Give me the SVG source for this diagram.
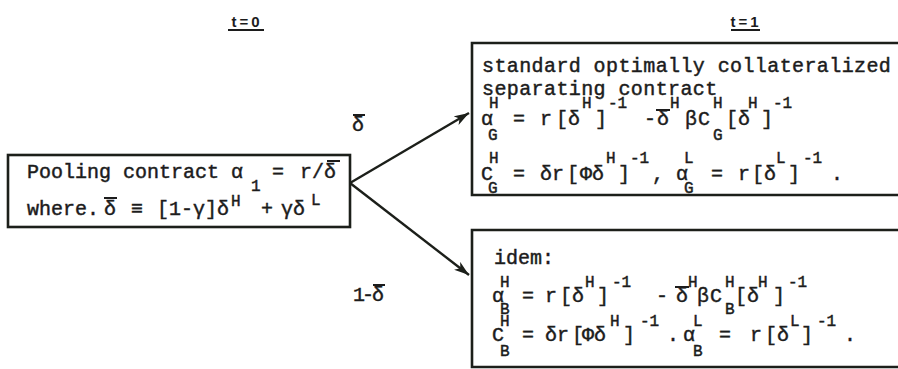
<svg xmlns="http://www.w3.org/2000/svg" width="898" height="369" viewBox="0 0 898 369">
<style>
.m{font-family:"Liberation Mono","DejaVu Sans Mono",monospace;font-size:20px;fill:#1c1c1c;stroke:#1c1c1c;stroke-width:0.45}
.s{font-size:16px}
.t{font-family:"Liberation Sans","DejaVu Sans",sans-serif;font-size:15px;font-weight:bold;fill:#1c1c1c;letter-spacing:3px}
.box{fill:none;stroke:#1c1f1a;stroke-width:2.6}
.bar{stroke:#1c1c1c;stroke-width:2}
.edge{fill:none;stroke:#1c1f1a;stroke-width:2.4}
</style>
<defs>
<marker id="ah" markerUnits="userSpaceOnUse" markerWidth="16" markerHeight="12" refX="15" refY="5" orient="auto">
<path d="M0,0 L15,5 L0,10 L4,5 z" fill="#1c1f1a"/>
</marker>
</defs>
<rect width="898" height="369" fill="#ffffff"/>

<g id="title-t0">
<text class="t" x="247" y="27" text-anchor="middle">t=0</text>
<line class="bar" x1="228" y1="30" x2="264" y2="30"/>
</g>
<g id="title-t1">
<text class="t" x="746" y="27" text-anchor="middle">t=1</text>
<line class="bar" x1="731" y1="30" x2="760" y2="30"/>
</g>

<g id="connectors">
<path class="edge" d="M350,183 L469,113" marker-end="url(#ah)"/>
<path class="edge" d="M350,183 L469,275" marker-end="url(#ah)"/>
<g id="label-up">
<text class="m" x="352" y="131">δ</text>
<line class="bar" x1="353" y1="115" x2="365" y2="115"/>
</g>
<g id="label-down">
<text class="m" x="353" y="301"><tspan>1</tspan><tspan x="362">-</tspan><tspan x="372">δ</tspan></text>
<line class="bar" x1="373" y1="285" x2="385" y2="285"/>
</g>
</g>

<g id="pooling">
<rect class="box" x="8" y="155" width="342" height="72"/>
<text class="m" x="27" y="178">Pooling contract α<tspan class="s" x="251" y="191">1</tspan><tspan x="272" y="178">=</tspan><tspan x="300">r/δ</tspan></text>
<line class="bar" x1="327" y1="161" x2="340" y2="161"/>
<text class="m" x="27" y="215">where.<tspan x="104">δ</tspan><tspan x="131">≡</tspan><tspan x="157">[1-γ]δ</tspan><tspan class="s" x="231" y="206">H</tspan><tspan x="261" y="215">+</tspan><tspan x="281">γδ</tspan><tspan class="s" x="311" y="205">L</tspan></text>
<line class="bar" x1="104" y1="198" x2="117" y2="198"/>
</g>

<g id="separating">
<path class="box" d="M905,43 L472,43 L472,195 L905,195"/>
<text class="m" x="482" y="72" letter-spacing="0.4">standard optimally collateralized</text>
<text class="m" x="482" y="95" letter-spacing="0.4">separating contract</text>
<text class="m" x="481" y="125">α<tspan class="s" x="489" y="108">H</tspan><tspan class="s" x="488" y="140">G</tspan><tspan x="513" y="125">=</tspan><tspan x="540">r</tspan><tspan x="556">[δ</tspan><tspan class="s" x="582" y="108">H</tspan><tspan x="595" y="125">]</tspan><tspan class="s" x="608" y="108">-1</tspan><tspan x="644" y="125">-</tspan><tspan x="657">δ</tspan><tspan class="s" x="670" y="108">H</tspan><tspan x="685" y="125">β</tspan><tspan x="698">C</tspan><tspan class="s" x="713" y="108">H</tspan><tspan class="s" x="713" y="140">G</tspan><tspan x="726" y="125">[δ</tspan><tspan class="s" x="748" y="108">H</tspan><tspan x="761" y="125">]</tspan><tspan class="s" x="773" y="108">-1</tspan></text>
<line class="bar" x1="656" y1="110" x2="670" y2="110"/>
<text class="m" x="481" y="180">C<tspan class="s" x="489" y="163">H</tspan><tspan class="s" x="488" y="193">G</tspan><tspan x="513" y="180">=</tspan><tspan x="540">δr</tspan><tspan x="567">[</tspan><tspan x="580">Φδ</tspan><tspan class="s" x="606" y="163">H</tspan><tspan x="618" y="180">]</tspan><tspan class="s" x="630" y="163">-1</tspan><tspan x="652" y="180">,</tspan><tspan x="676">α</tspan><tspan class="s" x="684" y="163">L</tspan><tspan class="s" x="684" y="193">G</tspan><tspan x="711" y="180">=</tspan><tspan x="738">r</tspan><tspan x="752">[δ</tspan><tspan class="s" x="776" y="163">L</tspan><tspan x="788" y="180">]</tspan><tspan class="s" x="803" y="163">-1</tspan><tspan x="831" y="180">.</tspan></text>
</g>

<g id="idem">
<path class="box" d="M905,230 L472,230 L472,367 L905,367"/>
<text class="m" x="494" y="264">idem:</text>
<text class="m" x="492" y="302">α<tspan class="s" x="500" y="287">H</tspan><tspan class="s" x="500" y="314">B</tspan><tspan x="522" y="302">=</tspan><tspan x="545">r</tspan><tspan x="560">[δ</tspan><tspan class="s" x="585" y="287">H</tspan><tspan x="597" y="302">]</tspan><tspan class="s" x="612" y="287">-1</tspan><tspan x="656" y="302">-</tspan><tspan x="676">δ</tspan><tspan class="s" x="688" y="287">H</tspan><tspan x="697" y="302">β</tspan><tspan x="710">C</tspan><tspan class="s" x="725" y="287">H</tspan><tspan class="s" x="725" y="314">B</tspan><tspan x="735" y="302">[δ</tspan><tspan class="s" x="758" y="287">H</tspan><tspan x="773" y="302">]</tspan><tspan class="s" x="788" y="287">-1</tspan></text>
<line class="bar" x1="675" y1="287" x2="689" y2="287"/>
<text class="m" x="492" y="341">C<tspan class="s" x="500" y="326">H</tspan><tspan class="s" x="500" y="356">B</tspan><tspan x="522" y="341">=</tspan><tspan x="545">δr</tspan><tspan x="572">[</tspan><tspan x="582">Φδ</tspan><tspan class="s" x="610" y="326">H</tspan><tspan x="623" y="341">]</tspan><tspan class="s" x="640" y="326">-1</tspan><tspan x="667" y="341">.</tspan><tspan x="683">α</tspan><tspan class="s" x="693" y="326">L</tspan><tspan class="s" x="693" y="356">B</tspan><tspan x="719" y="341">=</tspan><tspan x="750">r</tspan><tspan x="765">[δ</tspan><tspan class="s" x="790" y="326">L</tspan><tspan x="801" y="341">]</tspan><tspan class="s" x="817" y="326">-1</tspan><tspan x="844" y="341">.</tspan></text>
</g>
</svg>
